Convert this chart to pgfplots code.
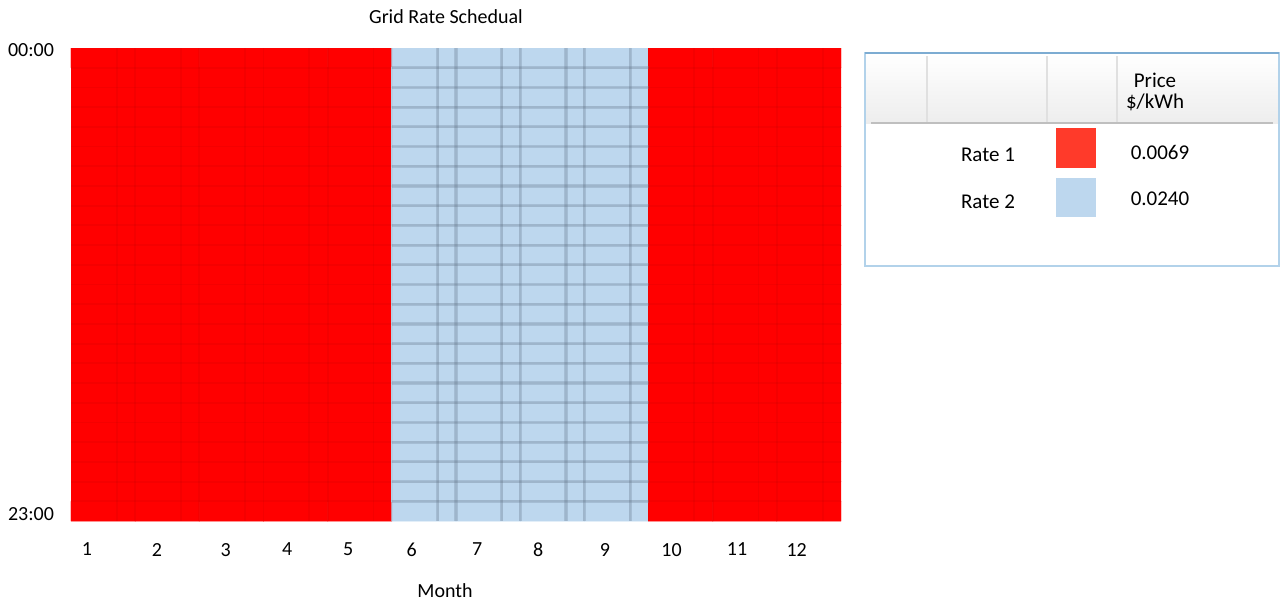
\documentclass[border=0pt]{standalone}
\usepackage{pgfplots}
\pgfplotsset{compat=1.18}
\usepackage{fontspec}
\setmainfont{Carlito}

\definecolor{rateone}{RGB}{255,0,0}
\definecolor{ratetwo}{RGB}{189,215,238}
\definecolor{swatchone}{RGB}{255,58,42}
\definecolor{boxedge}{RGB}{178,210,234}
\definecolor{boxtop}{RGB}{125,172,210}
\definecolor{bluegrid}{RGB}{110,132,155}

\newcommand{\axisfont}{\fontsize{10}{12}\selectfont}

\begin{document}
\begin{tikzpicture}
\useasboundingbox (0,0) rectangle (640pt,-300.5pt);

\begin{axis}[
  at={(35.5pt,-260.5pt)}, anchor=south west,
  scale only axis, width=385pt, height=236.5pt,
  xmin=0, xmax=12, ymin=0, ymax=24, y dir=reverse,
  enlargelimits=false, axis on top,
  axis line style={draw=none},
  major tick length=0pt, minor tick length=0pt,
  xtick={0.25,1.34,2.41,3.37,4.32,5.31,6.33,7.28,8.32,9.36,10.38,11.31},
  xticklabels={1,2,3,4,5,6,7,8,9,10,11,12},
  ytick={0.1,23.65}, yticklabels={00:00,23:00},
  minor xtick={0.715,1,1.715,2,2.715,3,3.715,4,4.715,5,5.715,6,6.715,7,7.715,8,8.715,9,9.715,10,10.715,11,11.715},
  minor ytick={1,...,23},
  xminorgrids, yminorgrids,
  minor grid style={black, opacity=0.04, line width=0.9pt},
  ticklabel style={font=\axisfont},
  xticklabel style={yshift=-7.5pt},
  yticklabel style={xshift=-5pt},
  /pgf/number format/assume math mode=true,
  colormap={rates}{color=(rateone) color=(ratetwo)},
  point meta min=0.0069, point meta max=0.0240,
]
% price ($/kWh) for every month (x) and hour of day (y)
\addplot[matrix plot*, mesh/cols=12, point meta=explicit] coordinates {
(0.5,0.5) [0.0069] (1.5,0.5) [0.0069] (2.5,0.5) [0.0069] (3.5,0.5) [0.0069] (4.5,0.5) [0.0069] (5.5,0.5) [0.0240] (6.5,0.5) [0.0240] (7.5,0.5) [0.0240] (8.5,0.5) [0.0240] (9.5,0.5) [0.0069] (10.5,0.5) [0.0069] (11.5,0.5) [0.0069]
(0.5,1.5) [0.0069] (1.5,1.5) [0.0069] (2.5,1.5) [0.0069] (3.5,1.5) [0.0069] (4.5,1.5) [0.0069] (5.5,1.5) [0.0240] (6.5,1.5) [0.0240] (7.5,1.5) [0.0240] (8.5,1.5) [0.0240] (9.5,1.5) [0.0069] (10.5,1.5) [0.0069] (11.5,1.5) [0.0069]
(0.5,2.5) [0.0069] (1.5,2.5) [0.0069] (2.5,2.5) [0.0069] (3.5,2.5) [0.0069] (4.5,2.5) [0.0069] (5.5,2.5) [0.0240] (6.5,2.5) [0.0240] (7.5,2.5) [0.0240] (8.5,2.5) [0.0240] (9.5,2.5) [0.0069] (10.5,2.5) [0.0069] (11.5,2.5) [0.0069]
(0.5,3.5) [0.0069] (1.5,3.5) [0.0069] (2.5,3.5) [0.0069] (3.5,3.5) [0.0069] (4.5,3.5) [0.0069] (5.5,3.5) [0.0240] (6.5,3.5) [0.0240] (7.5,3.5) [0.0240] (8.5,3.5) [0.0240] (9.5,3.5) [0.0069] (10.5,3.5) [0.0069] (11.5,3.5) [0.0069]
(0.5,4.5) [0.0069] (1.5,4.5) [0.0069] (2.5,4.5) [0.0069] (3.5,4.5) [0.0069] (4.5,4.5) [0.0069] (5.5,4.5) [0.0240] (6.5,4.5) [0.0240] (7.5,4.5) [0.0240] (8.5,4.5) [0.0240] (9.5,4.5) [0.0069] (10.5,4.5) [0.0069] (11.5,4.5) [0.0069]
(0.5,5.5) [0.0069] (1.5,5.5) [0.0069] (2.5,5.5) [0.0069] (3.5,5.5) [0.0069] (4.5,5.5) [0.0069] (5.5,5.5) [0.0240] (6.5,5.5) [0.0240] (7.5,5.5) [0.0240] (8.5,5.5) [0.0240] (9.5,5.5) [0.0069] (10.5,5.5) [0.0069] (11.5,5.5) [0.0069]
(0.5,6.5) [0.0069] (1.5,6.5) [0.0069] (2.5,6.5) [0.0069] (3.5,6.5) [0.0069] (4.5,6.5) [0.0069] (5.5,6.5) [0.0240] (6.5,6.5) [0.0240] (7.5,6.5) [0.0240] (8.5,6.5) [0.0240] (9.5,6.5) [0.0069] (10.5,6.5) [0.0069] (11.5,6.5) [0.0069]
(0.5,7.5) [0.0069] (1.5,7.5) [0.0069] (2.5,7.5) [0.0069] (3.5,7.5) [0.0069] (4.5,7.5) [0.0069] (5.5,7.5) [0.0240] (6.5,7.5) [0.0240] (7.5,7.5) [0.0240] (8.5,7.5) [0.0240] (9.5,7.5) [0.0069] (10.5,7.5) [0.0069] (11.5,7.5) [0.0069]
(0.5,8.5) [0.0069] (1.5,8.5) [0.0069] (2.5,8.5) [0.0069] (3.5,8.5) [0.0069] (4.5,8.5) [0.0069] (5.5,8.5) [0.0240] (6.5,8.5) [0.0240] (7.5,8.5) [0.0240] (8.5,8.5) [0.0240] (9.5,8.5) [0.0069] (10.5,8.5) [0.0069] (11.5,8.5) [0.0069]
(0.5,9.5) [0.0069] (1.5,9.5) [0.0069] (2.5,9.5) [0.0069] (3.5,9.5) [0.0069] (4.5,9.5) [0.0069] (5.5,9.5) [0.0240] (6.5,9.5) [0.0240] (7.5,9.5) [0.0240] (8.5,9.5) [0.0240] (9.5,9.5) [0.0069] (10.5,9.5) [0.0069] (11.5,9.5) [0.0069]
(0.5,10.5) [0.0069] (1.5,10.5) [0.0069] (2.5,10.5) [0.0069] (3.5,10.5) [0.0069] (4.5,10.5) [0.0069] (5.5,10.5) [0.0240] (6.5,10.5) [0.0240] (7.5,10.5) [0.0240] (8.5,10.5) [0.0240] (9.5,10.5) [0.0069] (10.5,10.5) [0.0069] (11.5,10.5) [0.0069]
(0.5,11.5) [0.0069] (1.5,11.5) [0.0069] (2.5,11.5) [0.0069] (3.5,11.5) [0.0069] (4.5,11.5) [0.0069] (5.5,11.5) [0.0240] (6.5,11.5) [0.0240] (7.5,11.5) [0.0240] (8.5,11.5) [0.0240] (9.5,11.5) [0.0069] (10.5,11.5) [0.0069] (11.5,11.5) [0.0069]
(0.5,12.5) [0.0069] (1.5,12.5) [0.0069] (2.5,12.5) [0.0069] (3.5,12.5) [0.0069] (4.5,12.5) [0.0069] (5.5,12.5) [0.0240] (6.5,12.5) [0.0240] (7.5,12.5) [0.0240] (8.5,12.5) [0.0240] (9.5,12.5) [0.0069] (10.5,12.5) [0.0069] (11.5,12.5) [0.0069]
(0.5,13.5) [0.0069] (1.5,13.5) [0.0069] (2.5,13.5) [0.0069] (3.5,13.5) [0.0069] (4.5,13.5) [0.0069] (5.5,13.5) [0.0240] (6.5,13.5) [0.0240] (7.5,13.5) [0.0240] (8.5,13.5) [0.0240] (9.5,13.5) [0.0069] (10.5,13.5) [0.0069] (11.5,13.5) [0.0069]
(0.5,14.5) [0.0069] (1.5,14.5) [0.0069] (2.5,14.5) [0.0069] (3.5,14.5) [0.0069] (4.5,14.5) [0.0069] (5.5,14.5) [0.0240] (6.5,14.5) [0.0240] (7.5,14.5) [0.0240] (8.5,14.5) [0.0240] (9.5,14.5) [0.0069] (10.5,14.5) [0.0069] (11.5,14.5) [0.0069]
(0.5,15.5) [0.0069] (1.5,15.5) [0.0069] (2.5,15.5) [0.0069] (3.5,15.5) [0.0069] (4.5,15.5) [0.0069] (5.5,15.5) [0.0240] (6.5,15.5) [0.0240] (7.5,15.5) [0.0240] (8.5,15.5) [0.0240] (9.5,15.5) [0.0069] (10.5,15.5) [0.0069] (11.5,15.5) [0.0069]
(0.5,16.5) [0.0069] (1.5,16.5) [0.0069] (2.5,16.5) [0.0069] (3.5,16.5) [0.0069] (4.5,16.5) [0.0069] (5.5,16.5) [0.0240] (6.5,16.5) [0.0240] (7.5,16.5) [0.0240] (8.5,16.5) [0.0240] (9.5,16.5) [0.0069] (10.5,16.5) [0.0069] (11.5,16.5) [0.0069]
(0.5,17.5) [0.0069] (1.5,17.5) [0.0069] (2.5,17.5) [0.0069] (3.5,17.5) [0.0069] (4.5,17.5) [0.0069] (5.5,17.5) [0.0240] (6.5,17.5) [0.0240] (7.5,17.5) [0.0240] (8.5,17.5) [0.0240] (9.5,17.5) [0.0069] (10.5,17.5) [0.0069] (11.5,17.5) [0.0069]
(0.5,18.5) [0.0069] (1.5,18.5) [0.0069] (2.5,18.5) [0.0069] (3.5,18.5) [0.0069] (4.5,18.5) [0.0069] (5.5,18.5) [0.0240] (6.5,18.5) [0.0240] (7.5,18.5) [0.0240] (8.5,18.5) [0.0240] (9.5,18.5) [0.0069] (10.5,18.5) [0.0069] (11.5,18.5) [0.0069]
(0.5,19.5) [0.0069] (1.5,19.5) [0.0069] (2.5,19.5) [0.0069] (3.5,19.5) [0.0069] (4.5,19.5) [0.0069] (5.5,19.5) [0.0240] (6.5,19.5) [0.0240] (7.5,19.5) [0.0240] (8.5,19.5) [0.0240] (9.5,19.5) [0.0069] (10.5,19.5) [0.0069] (11.5,19.5) [0.0069]
(0.5,20.5) [0.0069] (1.5,20.5) [0.0069] (2.5,20.5) [0.0069] (3.5,20.5) [0.0069] (4.5,20.5) [0.0069] (5.5,20.5) [0.0240] (6.5,20.5) [0.0240] (7.5,20.5) [0.0240] (8.5,20.5) [0.0240] (9.5,20.5) [0.0069] (10.5,20.5) [0.0069] (11.5,20.5) [0.0069]
(0.5,21.5) [0.0069] (1.5,21.5) [0.0069] (2.5,21.5) [0.0069] (3.5,21.5) [0.0069] (4.5,21.5) [0.0069] (5.5,21.5) [0.0240] (6.5,21.5) [0.0240] (7.5,21.5) [0.0240] (8.5,21.5) [0.0240] (9.5,21.5) [0.0069] (10.5,21.5) [0.0069] (11.5,21.5) [0.0069]
(0.5,22.5) [0.0069] (1.5,22.5) [0.0069] (2.5,22.5) [0.0069] (3.5,22.5) [0.0069] (4.5,22.5) [0.0069] (5.5,22.5) [0.0240] (6.5,22.5) [0.0240] (7.5,22.5) [0.0240] (8.5,22.5) [0.0240] (9.5,22.5) [0.0069] (10.5,22.5) [0.0069] (11.5,22.5) [0.0069]
(0.5,23.5) [0.0069] (1.5,23.5) [0.0069] (2.5,23.5) [0.0069] (3.5,23.5) [0.0069] (4.5,23.5) [0.0069] (5.5,23.5) [0.0240] (6.5,23.5) [0.0240] (7.5,23.5) [0.0240] (8.5,23.5) [0.0240] (9.5,23.5) [0.0069] (10.5,23.5) [0.0069] (11.5,23.5) [0.0069]
};
% stronger cell borders over the Rate 2 months
\pgfplotsinvokeforeach{1,...,23}{
  \draw[bluegrid, opacity=0.3, line width=1.6pt] (axis cs:5,#1) -- (axis cs:9,#1);
}
\pgfplotsinvokeforeach{5.715,6,6.715,7,7.715,8,8.715}{
  \draw[bluegrid, opacity=0.3, line width=1.6pt] (axis cs:#1,0) -- (axis cs:#1,24);
}
\end{axis}

\begin{scope}[x=0.5pt, y=-0.5pt]
  % titles
  \node[font=\axisfont] at (446,17) {Grid Rate Schedual};
  \node[font=\axisfont] at (445,591) {Month};
  % rate table
  \shade[top color=white, bottom color=black!7] (866,54) rectangle (1278,123);
  \draw[black!12, line width=0.6pt] (927,56) -- (927,123) (1047,56) -- (1047,123) (1117,56) -- (1117,123);
  \draw[black!25, line width=0.8pt] (871,123) -- (1273,123);
  \draw[boxedge, line width=1pt] (865,53) rectangle (1279,266);
  \draw[boxtop, line width=1.2pt] (865,53) -- (1279,53);
  \node[font=\fontsize{10.5}{12}\selectfont] at (1155,80) {Price};
  \node[font=\fontsize{10.5}{12}\selectfont] at (1155,102) {\$/kWh};
  \node[font=\fontsize{10.5}{12}\selectfont] at (988,155) {Rate 1};
  \fill[swatchone] (1056,128) rectangle (1096,168);
  \node[font=\fontsize{10.5}{12}\selectfont] at (1160,152) {0.0069};
  \node[font=\fontsize{10.5}{12}\selectfont] at (988,202) {Rate 2};
  \fill[ratetwo] (1056,178) rectangle (1096,217);
  \node[font=\fontsize{10.5}{12}\selectfont] at (1160,199) {0.0240};
\end{scope}
\end{tikzpicture}
\end{document}
